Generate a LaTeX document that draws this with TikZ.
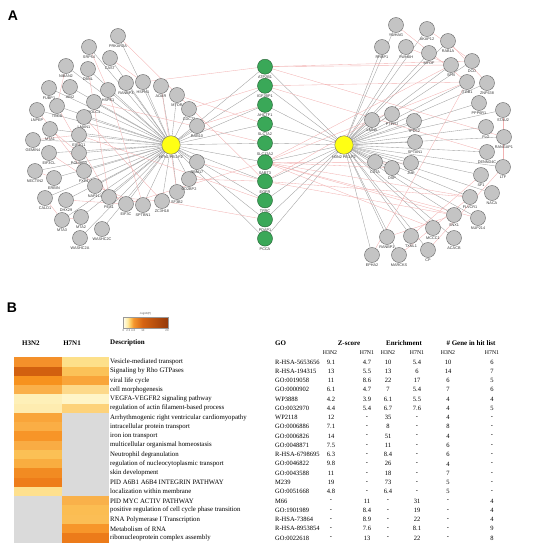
\documentclass[tikz,border=0pt]{standalone}
\usepackage{fontspec}
\setmainfont{Liberation Serif}
\setsansfont{Liberation Sans}
\usetikzlibrary{backgrounds}
\definecolor{geneF}{RGB}{196,196,196}
\definecolor{geneD}{RGB}{110,110,110}
\definecolor{tgtF}{RGB}{58,168,88}
\definecolor{tgtD}{RGB}{40,100,55}
\definecolor{hubF}{RGB}{255,255,20}
\definecolor{pinkE}{RGB}{242,178,178}
\definecolor{cbA}{RGB}{255,255,250}
\definecolor{cbB}{RGB}{255,236,165}
\definecolor{cbC}{RGB}{253,198,92}
\definecolor{cbD}{RGB}{244,150,45}
\definecolor{cbE}{RGB}{214,100,18}
\definecolor{cbF}{RGB}{150,58,10}
\begin{document}
\begin{tikzpicture}[x=1pt,y=-1pt,
  glab/.style={font=\sffamily\fontsize{3.8}{3.8}\selectfont,inner sep=0.2pt,text=black!80},
  gene/.style={shape=circle,draw=geneD,fill=geneF,line width=0.45pt,minimum size=15pt,inner sep=0pt,
    label={[glab,label distance=1.2pt]below:#1}},
  tgt/.style={gene=#1,draw=tgtD,fill=tgtF},
  hub/.style={gene=#1,fill=hubF,minimum size=18.5pt},
  hedge/.style={black!38,line width=0.35pt},
  pedge/.style={pinkE,line width=0.35pt},
  panel/.style={font=\sffamily\bfseries\fontsize{14}{14}\selectfont},
  hd/.style={font=\bfseries\fontsize{7}{7}\selectfont},
  sub/.style={font=\fontsize{5.8}{6}\selectfont},
  cell/.style={font=\fontsize{6.5}{7}\selectfont,inner sep=0pt},
  tick/.style={font=\sffamily\fontsize{2.8}{3}\selectfont,inner sep=0pt,text=black!70}]
\useasboundingbox (0,0) rectangle (533,550);

% panel A
\node[panel] (pA) at (13,16) {A};
\node[hub=H7N1 PB1-F2] (hubL) at (171,145) {};
\node[hub=H3N2 PB1-F2] (hubR) at (344,145) {};

\foreach \n/\x/\y in {PRKAR2A/118/36,SRP54/89/47,CAST/110/58,NIBAN2/66/66,DBNL/88/69,RANBP3/126/83,
  HSPH1/143/82,ADAR/161/86,MTOR/177/95,CDC73/189/109,RAB10/197/126,FUBP1/49/88,ABI2/70/87,HSPE1/108/90,
  LNPEP/37/110,TBCB/57/106,NOLC1/94/102,LMAN1/84/117,MTA1/50/129,EIF4G1/79/135,GEMIN4/33/140,
  EIF3CL/49/153,POLDIP3/79/153,NECTIN2/35/171,FXR1/84/171,ERBIN/54/178,NAP1L4/95/186,CALD1/45/198,
  DHX29/66/200,PES1/109/197,EIF3C/126/204,SPTBN1/143/205,ZC3H18/162/201,SF3B2/177/192,CD2BP2/189/179,
  RBM17/197/162,MTA3/62/220,MTA2/81/217,WASHC2C/102/229,WASHC2A/80/238}
  \node[gene=\n] (\n) at (\x,\y) {};

\foreach \n/\x/\y in {YWHAG/396/25,AKAP12/427/29,RRBP1/382/47,YWHAH/406/47,RAB1A/448/41,MYOF/429/53,
  SFN/451/65,DCD/472/61,ITGB1/467/82,ZNF638/487/83,PPP6R1/479/103,STAU2/503/110,LMNA/372/120,
  PTPRJ/392/114,TPD52/414/121,FLG/486/127,RANGAP1/504/137,SPTAN1/415/142,DENND4C/487/152,CSTA/375/162,
  DSP/392/168,JUP/411/163,LTF/503/167,SF1/481/175,NACA/492/193,FLVCR1/470/197,NUP214/478/218,
  SNX1/454/215,MCCC1/433/228,ACACB/454/238,RANBP1/387/237,TXNL1/411/236,CP/428/250,EPHA2/372/255,
  MARCKS/399/255}
  \node[gene=\n] (\n) at (\x,\y) {};

\foreach \n [count=\i from 0] in {ATP2B1,IGF2BP1,AHCTF1,SLC7A2,SLC12A2,SART3,EGFR,TFRC,PDAP1,PCCA}
  \node[tgt=\n] (\n) at (265,66.7+19.1*\i) {};

\begin{scope}[on background layer]
\foreach \n in {PRKAR2A,SRP54,CAST,NIBAN2,DBNL,RANBP3,HSPH1,ADAR,MTOR,CDC73,RAB10,FUBP1,ABI2,HSPE1,
  LNPEP,TBCB,NOLC1,LMAN1,MTA1,EIF4G1,GEMIN4,EIF3CL,POLDIP3,NECTIN2,FXR1,ERBIN,NAP1L4,CALD1,DHX29,PES1,
  EIF3C,SPTBN1,ZC3H18,SF3B2,CD2BP2,RBM17,MTA3,MTA2,WASHC2C,WASHC2A}
  \draw[hedge] (hubL) -- (\n);
\foreach \n in {YWHAG,AKAP12,RRBP1,YWHAH,RAB1A,MYOF,SFN,DCD,ITGB1,ZNF638,PPP6R1,STAU2,LMNA,PTPRJ,TPD52,
  FLG,RANGAP1,SPTAN1,DENND4C,CSTA,DSP,JUP,LTF,SF1,NACA,FLVCR1,NUP214,SNX1,MCCC1,ACACB,RANBP1,TXNL1,CP,
  EPHA2,MARCKS}
  \draw[hedge] (hubR) -- (\n);
\foreach \n in {ATP2B1,IGF2BP1,AHCTF1,SLC7A2,SLC12A2,SART3,EGFR,TFRC,PDAP1,PCCA}
  {\draw[hedge] (hubL) -- (\n); \draw[hedge] (hubR) -- (\n);}
% protein interactions
\foreach \a/\b in {SART3/FLVCR1,SART3/NUP214,SART3/SNX1,SART3/DSP,SART3/ITGB1,SART3/SFN,EGFR/SNX1,
  EGFR/FLVCR1,EGFR/LMNA,ATP2B1/DCD,ATP2B1/SFN,IGF2BP1/ITGB1,ATP2B1/HSPH1,IGF2BP1/CDC73,AHCTF1/RAB10,
  SLC7A2/MTOR,EGFR/RBM17,EGFR/CD2BP2,CP/LTF,SNX1/RANBP1,EPHA2/ITGB1,YWHAG/ITGB1,YWHAH/SFN,AKAP12/DCD,
  RAB1A/ZNF638,LTF/STAU2,TXNL1/SF1,MARCKS/FLVCR1,SRP54/HSPE1,NIBAN2/TBCB,CAST/HSPH1,LNPEP/FXR1,
  GEMIN4/EIF4G1,MTA1/POLDIP3,NECTIN2/ERBIN,CALD1/MTA3,DHX29/EIF3C,PES1/ZC3H18,ADAR/SF3B2,MTA2/MTA3,
  EIF3CL/EIF3C,NAP1L4/SPTBN1,LMAN1/ZC3H18,TBCB/PES1,DBNL/PES1,HSPE1/SPTBN1,SLC12A2/NOLC1,TFRC/EIF4G1,
  PDAP1/ZC3H18,SART3/EIF3C,EGFR/PRKAR2A,SART3/JUP,SART3/MCCC1,IGF2BP1/DENND4C,ATP2B1/RANGAP1}
  \draw[pedge] (\a) -- (\b);
\end{scope}

% panel B
\node[panel] (pB) at (12,308) {B};
\foreach \xa/\xb/\ca/\cb in {123/128/cbA/cbB,128/131/cbB/cbC,131/134/cbC/cbD,134/143/cbD/cbE,143/168/cbE/cbF}
{
  \pgfmathtruncatemacro\nn{\xb-\xa-1}
  \foreach \k in {0,...,\nn}
  {
    \pgfmathtruncatemacro\pc{100*(\k+0.5)/(\xb-\xa)}
    \fill[\cb!\pc!\ca] (\xa+\k,317) rectangle (\xa+\k+1.05,328);
  }
}
\draw[black!40,line width=0.2pt] (123,317) rectangle (168,328);
\node[tick] (cbt) at (145.5,313.5) {-log10(P)};
\foreach \v/\x in {0/123.5,2 3 4/129.5,6/134.5,10/143,20/167}
  \node[tick] (cb\x) at (\x,331) {\v};

\node[hd] (hA) at (31,343) {H3N2};
\node[hd] (hB) at (72,343) {H7N1};
\node[hd,anchor=west,inner sep=0pt] (hD) at (110,343) {Description};
\node[hd,anchor=west,inner sep=0pt] (hG) at (275,343) {GO};
\node[hd] (hZ) at (349,343) {Z-score};
\node[hd] (hE) at (404,343) {Enrichment};
\node[hd] (hN) at (471,343) {\# Gene in hit list};
\foreach \x/\c/\t in {330/zA/H3N2,367/zB/H7N1,388/eA/H3N2,417/eB/H7N1,448/gA/H3N2,492/gB/H7N1}
  \node[sub] (s\c) at (\x,353) {\t};

\foreach \ca/\cb/\go/\za/\zb/\ea/\eb/\ga/\gb/\desc [count=\r] in {
  F4902A/FDE08A/R-HSA-5653656/9.1/4.7/10/5.4/10/6/Vesicle-mediated transport,
  D2600F/FBC258/R-HSA-194315/13/5.5/13/6/14/7/Signaling by Rho GTPases,
  F7921E/F9A53A/GO:0019058/11/8.6/22/17/6/5/viral life cycle,
  FAB04A/FDD98A/GO:0000902/6.1/4.7/7/5.4/7/6/cell morphogenesis,
  FEF0B8/FFF5C8/WP3888/4.2/3.9/6.1/5.5/4/4/VEGFA-VEGFR2 signaling pathway,
  FEECB0/FDD27A/GO:0032970/4.4/5.4/6.7/7.6/4/5/regulation of actin filament-based process,
  F9A53A/DADADA/WP2118/12/-/35/-/4/-/Arrhythmogenic right ventricular cardiomyopathy,
  FAAE45/DADADA/GO:0006886/7.1/-/8/-/8/-/intracellular protein transport,
  F79528/DADADA/GO:0006826/14/-/51/-/4/-/iron ion transport,
  F9AC44/DADADA/GO:0048871/7.5/-/11/-/6/-/multicellular organismal homeostasis,
  FBC055/DADADA/R-HSA-6798695/6.3/-/8.4/-/6/-/Neutrophil degranulation,
  F9AD40/DADADA/GO:0046822/9.8/-/26/-/4/-/regulation of nucleocytoplasmic transport,
  F28B22/DADADA/GO:0043588/11/-/18/-/7/-/skin development,
  EE7D1A/DADADA/M239/19/-/73/-/5/-/PID A6B1 A6B4 INTEGRIN PATHWAY,
  FEE08E/DADADA/GO:0051668/4.8/-/6.4/-/5/-/localization within membrane,
  DADADA/F9B14A/M66/-/11/-/31/-/4/PID MYC ACTIV PATHWAY,
  DADADA/FBBD52/GO:1901989/-/8.4/-/19/-/4/positive regulation of cell cycle phase transition,
  DADADA/FBBE55/R-HSA-73864/-/8.9/-/22/-/4/RNA Polymerase I Transcription,
  DADADA/F7962A/R-HSA-8953854/-/7.6/-/8.1/-/9/Metabolism of RNA,
  DADADA/EC7B1A/GO:0022618/-/13/-/22/-/8/ribonucleoprotein complex assembly}
{
  \pgfmathsetmacro\yy{362+(\r-1)*9.26}
  \definecolor{cellA}{HTML}{\ca}
  \definecolor{cellB}{HTML}{\cb}
  \fill[cellA] (14,\yy-4.68) rectangle (62,\yy+4.68);
  \fill[cellB] (62,\yy-4.68) rectangle (109,\yy+4.68);
  \node[cell,anchor=west,font=\fontsize{6.8}{7}\selectfont] (desc\r) at (110,\yy) {\desc};
  \node[cell,anchor=west] (go\r) at (275,\yy) {\go};
  \node[cell] (za\r) at (331,\yy) {\za};
  \node[cell] (zb\r) at (367,\yy) {\zb};
  \node[cell] (ea\r) at (388,\yy) {\ea};
  \node[cell] (eb\r) at (417,\yy) {\eb};
  \node[cell] (ga\r) at (448,\yy) {\ga};
  \node[cell] (gb\r) at (492,\yy) {\gb};
}
\end{tikzpicture}
\end{document}
